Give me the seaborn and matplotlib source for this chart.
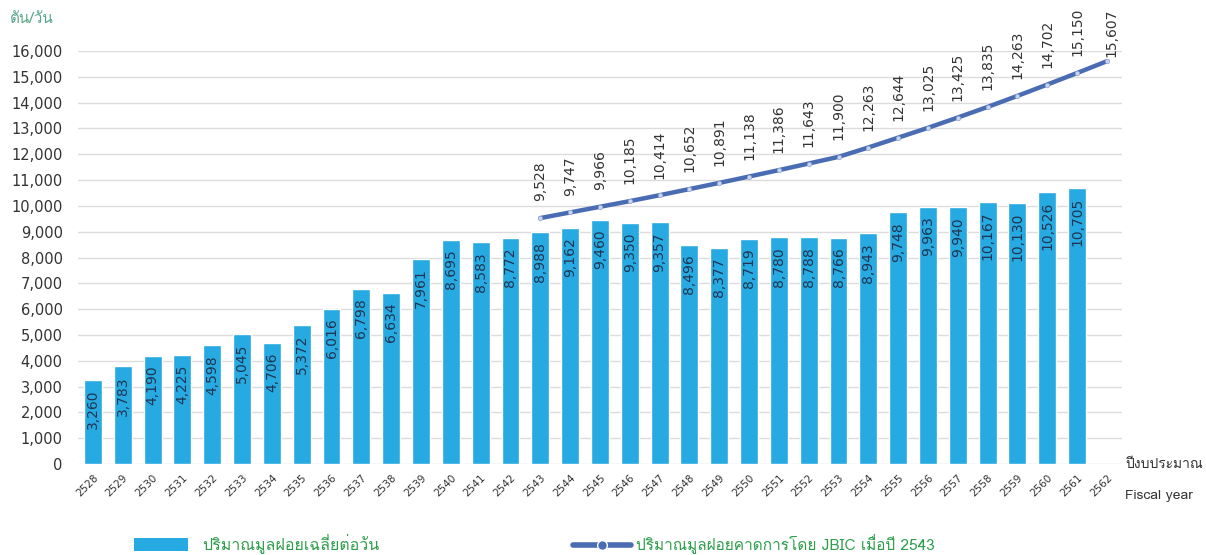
import numpy as np
import pandas as pd
import matplotlib
matplotlib.use("Agg")
import matplotlib.pyplot as plt
import seaborn as sns
from matplotlib import font_manager
from matplotlib.ft2font import FT2Font
from matplotlib.patches import Patch
from matplotlib.lines import Line2D

# Fiscal years (Buddhist era)
years = list(range(2528, 2563))
bar_years = list(range(2528, 2562))
daily_waste = [3260, 3783, 4190, 4225, 4598, 5045, 4706, 5372, 6016, 6798,
               6634, 7961, 8695, 8583, 8772, 8988, 9162, 9460, 9350, 9357,
               8496, 8377, 8719, 8780, 8788, 8766, 8943, 9748, 9963, 9940,
               10167, 10130, 10526, 10705]
jbic_years = list(range(2543, 2563))
jbic_forecast = [9528, 9747, 9966, 10185, 10414, 10652, 10891, 11138, 11386,
                 11643, 11900, 12263, 12644, 13025, 13425, 13835, 14263,
                 14702, 15150, 15607]

bar_label = "ปริมาณมูลฝอยเฉลี่ยต่อวัน"
line_label = "ปริมาณมูลฝอยคาดการโดย JBIC เมื่อปี 2543"
unit_label = "ตัน/วัน"
xlabel_th = "ปีงบประมาณ"
xlabel_en = "Fiscal year"


def thai_family():
    """Return the name of an installed family that has Thai glyphs."""
    for f in font_manager.fontManager.ttflist:
        try:
            if 0x0E1B in FT2Font(f.fname).get_charmap():
                return f.name
        except Exception:
            continue
    return None


sns.set_theme(style="white")
fam = thai_family()
families = ([fam] if fam else []) + ["DejaVu Sans"]
plt.rcParams["font.family"] = ["DejaVu Sans"] + ([fam] if fam else [])

BAR_COLOR = "#27a9e1"
LINE_COLOR = "#4a6cb3"
TEXT_DARK = "#333333"
LABEL_NAVY = "#1f3550"
GREEN = "#2f9e4c"

fig = plt.figure(figsize=(12.06, 5.55), dpi=100)
ax = fig.add_axes([0.0647, 0.164, 0.8655, 0.744])

bars_df = pd.DataFrame({"year": bar_years, "tons": daily_waste})
line_df = pd.DataFrame({"year": jbic_years, "tons": jbic_forecast})

sns.barplot(data=bars_df, x="year", y="tons", native_scale=True,
            color=BAR_COLOR, saturation=1, width=0.6, ax=ax, zorder=2)
sns.lineplot(data=line_df, x="year", y="tons", ax=ax, color=LINE_COLOR,
             linewidth=3.2, marker="o", markersize=3.2,
             markerfacecolor="#c9d5ee", markeredgecolor="#8fa4d4",
             markeredgewidth=0.5, zorder=3)

# value labels
for x, v in zip(bar_years, daily_waste):
    ax.annotate(f"{v:,}", (x, v), xytext=(0, -7), textcoords="offset points",
                rotation=90, ha="center", va="top", fontsize=10,
                color=LABEL_NAVY, zorder=4)
for i, (x, v) in enumerate(zip(jbic_years, jbic_forecast)):
    last = i == len(jbic_years) - 1
    offset = (3, 3) if last else (0, 12)
    ax.annotate(f"{v:,}", (x, v), xytext=offset, textcoords="offset points",
                rotation=90, ha="center", va="bottom", fontsize=10,
                color=TEXT_DARK, zorder=4, annotation_clip=False)

ax.set_xlim(2527.5, 2562.5)
ax.set_ylim(0, 16000)
ax.set_yticks(np.arange(0, 16001, 1000))
ax.set_yticklabels([f"{t:,}" for t in range(0, 16001, 1000)])
ax.set_xticks(years)
ax.set_xticklabels([str(y) for y in years], rotation=45, ha="right",
                   rotation_mode="anchor", fontsize=7.5, color=TEXT_DARK)
ax.tick_params(axis="y", length=0, pad=11, labelsize=10.5, labelcolor=TEXT_DARK)
ax.tick_params(axis="x", length=0, pad=6)
ax.yaxis.grid(True, color="#dcdcdc", linewidth=1, zorder=0)
ax.set_axisbelow(True)
for s in ax.spines.values():
    s.set_visible(False)
ax.set_xlabel("")
ax.set_ylabel("")

fig.text(0.008, 0.966, unit_label, fontsize=11, color="#5aa88a",
         family=families, va="center")
fig.text(0.933, 0.162, xlabel_th, fontsize=10, color=TEXT_DARK,
         family=families, va="center")
fig.text(0.933, 0.107, xlabel_en, fontsize=10, color=TEXT_DARK,
         family=families, va="center")

bar_handle = Patch(facecolor=BAR_COLOR, edgecolor="none")
line_handle = Line2D([0], [0], color=LINE_COLOR, linewidth=4, marker="o",
                     markersize=7, markerfacecolor=LINE_COLOR,
                     markeredgecolor="white", markeredgewidth=1)
fig.legend([bar_handle], [bar_label], loc="center left",
           bbox_to_anchor=(0.099, 0.02), frameon=False,
           prop={"family": families, "size": 11.5},
           handlelength=3.4, handleheight=0.9, handletextpad=0.9,
           labelcolor=GREEN)
fig.legend([line_handle], [line_label], loc="center left",
           bbox_to_anchor=(0.464, 0.02), frameon=False,
           prop={"family": families, "size": 11.1},
           handlelength=3.7, handletextpad=0.35, labelcolor=GREEN)

fig.savefig("out.png", dpi=100)
